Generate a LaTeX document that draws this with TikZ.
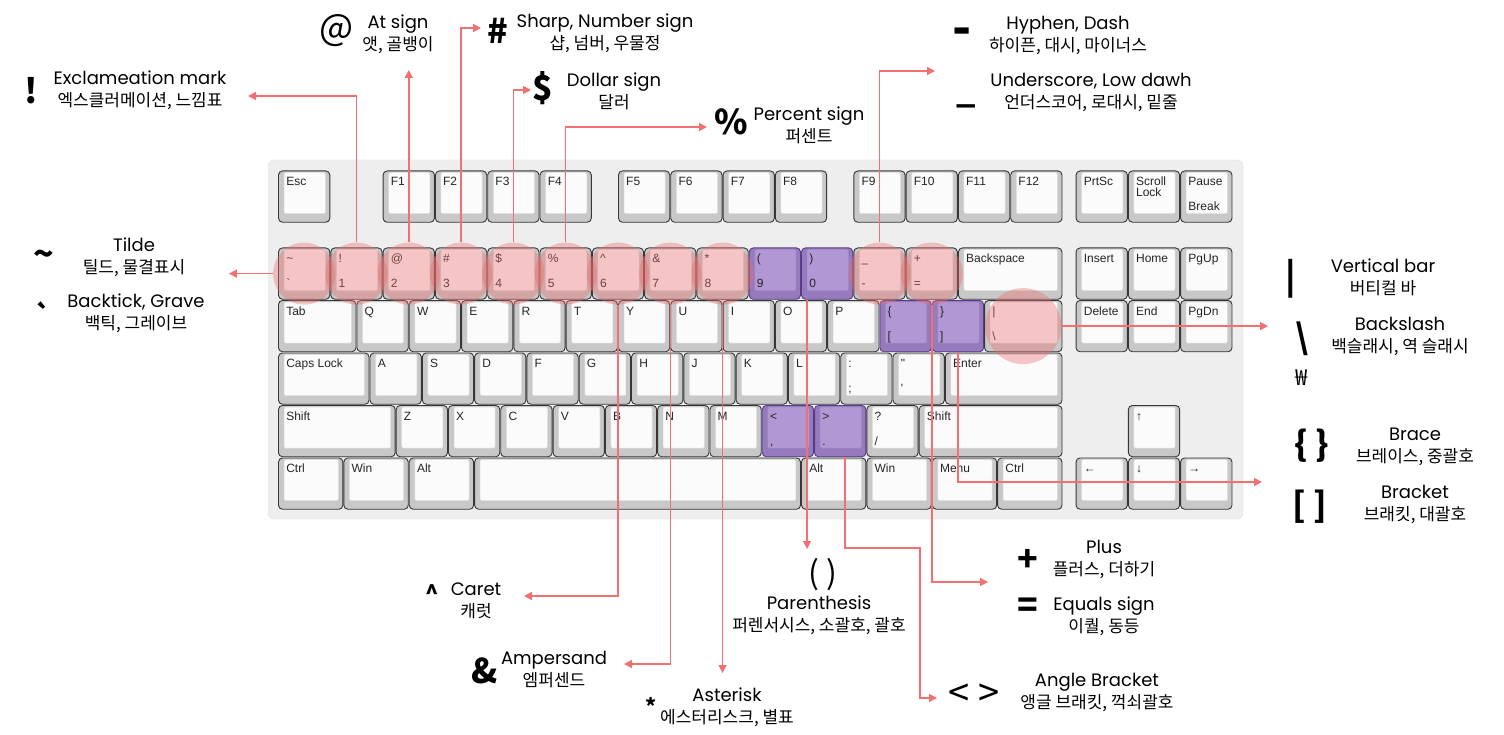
\documentclass[tikz,border=0pt]{standalone}
\usepackage{fontspec}
\setmainfont{Noto Sans CJK KR}
\newfontfamily\keyfont{Liberation Sans}
\newfontfamily\enfont{Poppins}
\usetikzlibrary{arrows.meta}

\definecolor{capgray}{RGB}{200,200,200}
\definecolor{capline}{RGB}{55,55,55}
\definecolor{facewhite}{RGB}{251,251,251}
\definecolor{faceline}{RGB}{222,222,222}
\definecolor{boardgray}{RGB}{238,238,238}
\definecolor{capviolet}{RGB}{150,122,190}
\definecolor{faceviolet}{RGB}{177,152,212}
\definecolor{lineviolet}{RGB}{88,60,136}
\definecolor{spotred}{RGB}{236,108,108}
\definecolor{linkred}{RGB}{242,112,112}

% one key: [look]{name}{column in units}{row top}{width in units}{upper legend}{lower legend}
\newcommand\ku{52.3}
\newcommand\kbkey[7][plain]{%
  \node[#1cap, minimum width={#5*\ku-1}] (#2) at ({278+(#3+#5/2)*\ku},{#4+25.6}) {};
  \draw[#1face] ([xshift=6pt,yshift=-2pt]#2.north west) rectangle ([xshift=-5pt,yshift=9pt]#2.south east);
  \if\relax\detokenize{#6}\relax\else
    \node[legend, anchor=base west] (#2-t) at ([xshift=8pt,yshift=-15pt]#2.north west) {#6};
  \fi
  \if\relax\detokenize{#7}\relax\else
    \node[legend, anchor=base west] (#2-b) at ([xshift=8pt,yshift=12pt]#2.south west) {#7};
  \fi}
\newcommand\krl[1]{{\rmfamily\fontsize{17}{22}\selectfont #1}}

\begin{document}
\begin{tikzpicture}[x=1pt, y=-1pt,
    board/.style={draw=black!12, fill=boardgray, rounded corners=6pt, inner sep=0pt},
    plaincap/.style={draw=capline, fill=capgray, rounded corners=4pt,
                     minimum height=51.3pt, inner sep=0pt, line width=0.9pt},
    plainface/.style={draw=faceline, fill=facewhite, rounded corners=2pt, line width=0.5pt},
    violetcap/.style={plaincap, draw=lineviolet, fill=capviolet},
    violetface/.style={plainface, draw=faceviolet!92!black, fill=faceviolet},
    legend/.style={font=\keyfont\fontsize{12}{11}\selectfont, text=black!85, inner sep=0pt},
    spot/.style={circle, fill=spotred, fill opacity=0.38, minimum size=62pt, inner sep=0pt},
    link/.style={draw=linkred, line width=1.5pt, -{Triangle[length=8pt,width=8pt]}},
    glyph/.style={font=\fontsize{34}{34}\selectfont\bfseries, inner sep=0pt},
    lbl/.style={align=center, inner sep=0pt, font=\enfont\fontsize{18}{22}\selectfont}
]
\fill[white] (0,0) rectangle (1504,735);
\useasboundingbox (0,0) rectangle (1504,735);

\node[board, minimum width=975pt, minimum height=359pt] (board) at (755.5,339.5) {};

% function row
\kbkey{kesc}{0}{171}{1}{Esc}{}
\kbkey{kf1}{2}{171}{1}{F1}{}
\kbkey{kf2}{3}{171}{1}{F2}{}
\kbkey{kf3}{4}{171}{1}{F3}{}
\kbkey{kf4}{5}{171}{1}{F4}{}
\kbkey{kf5}{6.5}{171}{1}{F5}{}
\kbkey{kf6}{7.5}{171}{1}{F6}{}
\kbkey{kf7}{8.5}{171}{1}{F7}{}
\kbkey{kf8}{9.5}{171}{1}{F8}{}
\kbkey{kf9}{11}{171}{1}{F9}{}
\kbkey{kf10}{12}{171}{1}{F10}{}
\kbkey{kf11}{13}{171}{1}{F11}{}
\kbkey{kf12}{14}{171}{1}{F12}{}
\kbkey{kprt}{15.25}{171}{1}{PrtSc}{}
\kbkey{kscroll}{16.25}{171}{1}{\vtop{\baselineskip=11pt\hbox{Scroll}\hbox{Lock}}}{}
\kbkey{kpause}{17.25}{171}{1}{Pause}{Break}

% number row
\kbkey{kgrave}{0}{248}{1}{\textasciitilde}{\textasciigrave}
\kbkey{k1}{1}{248}{1}{!}{1}
\kbkey{k2}{2}{248}{1}{@}{2}
\kbkey{k3}{3}{248}{1}{\#}{3}
\kbkey{k4}{4}{248}{1}{\$}{4}
\kbkey{k5}{5}{248}{1}{\%}{5}
\kbkey{k6}{6}{248}{1}{\textasciicircum}{6}
\kbkey{k7}{7}{248}{1}{\&}{7}
\kbkey{k8}{8}{248}{1}{*}{8}
\kbkey[violet]{k9}{9}{248}{1}{(}{9}
\kbkey[violet]{k0}{10}{248}{1}{)}{0}
\kbkey{kminus}{11}{248}{1}{\_}{-}
\kbkey{kequal}{12}{248}{1}{+}{=}
\kbkey{kback}{13}{248}{2}{Backspace}{}
\kbkey{kins}{15.25}{248}{1}{Insert}{}
\kbkey{khome}{16.25}{248}{1}{Home}{}
\kbkey{kpgup}{17.25}{248}{1}{PgUp}{}

% top letter row
\kbkey{ktab}{0}{300.5}{1.5}{Tab}{}
\kbkey{kq}{1.5}{300.5}{1}{Q}{}
\kbkey{kw}{2.5}{300.5}{1}{W}{}
\kbkey{ke}{3.5}{300.5}{1}{E}{}
\kbkey{kr}{4.5}{300.5}{1}{R}{}
\kbkey{kt}{5.5}{300.5}{1}{T}{}
\kbkey{ky}{6.5}{300.5}{1}{Y}{}
\kbkey{ku}{7.5}{300.5}{1}{U}{}
\kbkey{ki}{8.5}{300.5}{1}{I}{}
\kbkey{ko}{9.5}{300.5}{1}{O}{}
\kbkey{kp}{10.5}{300.5}{1}{P}{}
\kbkey[violet]{klbrace}{11.5}{300.5}{1}{\{}{[}
\kbkey[violet]{krbrace}{12.5}{300.5}{1}{\}}{]}
\kbkey{kbslash}{13.5}{300.5}{1.5}{|}{\textbackslash}
\kbkey{kdel}{15.25}{300.5}{1}{Delete}{}
\kbkey{kend}{16.25}{300.5}{1}{End}{}
\kbkey{kpgdn}{17.25}{300.5}{1}{PgDn}{}

% home row
\kbkey{kcaps}{0}{353}{1.75}{Caps Lock}{}
\kbkey{ka}{1.75}{353}{1}{A}{}
\kbkey{ks}{2.75}{353}{1}{S}{}
\kbkey{kd}{3.75}{353}{1}{D}{}
\kbkey{kf}{4.75}{353}{1}{F}{}
\kbkey{kg}{5.75}{353}{1}{G}{}
\kbkey{kh}{6.75}{353}{1}{H}{}
\kbkey{kj}{7.75}{353}{1}{J}{}
\kbkey{kk}{8.75}{353}{1}{K}{}
\kbkey{kl}{9.75}{353}{1}{L}{}
\kbkey{kscolon}{10.75}{353}{1}{:}{;}
\kbkey{kquote}{11.75}{353}{1}{\textquotedbl}{\textquotesingle}
\kbkey{kenter}{12.75}{353}{2.25}{Enter}{}

% bottom letter row
\kbkey{klshift}{0}{405.5}{2.25}{Shift}{}
\kbkey{kz}{2.25}{405.5}{1}{Z}{}
\kbkey{kx}{3.25}{405.5}{1}{X}{}
\kbkey{kc}{4.25}{405.5}{1}{C}{}
\kbkey{kv}{5.25}{405.5}{1}{V}{}
\kbkey{kb}{6.25}{405.5}{1}{B}{}
\kbkey{kn}{7.25}{405.5}{1}{N}{}
\kbkey{km}{8.25}{405.5}{1}{M}{}
\kbkey[violet]{klt}{9.25}{405.5}{1}{<}{,}
\kbkey[violet]{kgt}{10.25}{405.5}{1}{>}{.}
\kbkey{kslash}{11.25}{405.5}{1}{?}{/}
\kbkey{krshift}{12.25}{405.5}{2.75}{Shift}{}
\kbkey{kup}{16.25}{405.5}{1}{↑}{}

% space row
\kbkey{klctrl}{0}{458}{1.25}{Ctrl}{}
\kbkey{klwin}{1.25}{458}{1.25}{Win}{}
\kbkey{klalt}{2.5}{458}{1.25}{Alt}{}
\kbkey{kspace}{3.75}{458}{6.25}{}{}
\kbkey{kralt}{10}{458}{1.25}{Alt}{}
\kbkey{krwin}{11.25}{458}{1.25}{Win}{}
\kbkey{kmenu}{12.5}{458}{1.25}{Menu}{}
\kbkey{krctrl}{13.75}{458}{1.25}{Ctrl}{}
\kbkey{kleft}{15.25}{458}{1}{←}{}
\kbkey{kdown}{16.25}{458}{1}{↓}{}
\kbkey{kright}{17.25}{458}{1}{→}{}

% pink marks
\node[spot] (c-grave) at (kgrave) {};
\node[spot] (c1) at (k1) {};
\node[spot] (c2) at (k2) {};
\node[spot] (c3) at (k3) {};
\node[spot] (c4) at (k4) {};
\node[spot] (c5) at (k5) {};
\node[spot] (c6) at (k6) {};
\node[spot] (c7) at (k7) {};
\node[spot] (c8) at (k8) {};
\node[spot] (c-minus) at (kminus) {};
\node[spot] (c-equal) at (kequal) {};
\node[spot, minimum size=76pt] (c-bslash) at (kbslash) {};

% symbols and names
\node[glyph] (s-excl) at (31,91) {!};
\node[lbl] (l-excl) at (140,90.5) {Exclameation mark\\\krl{엑스클러메이션, 느낌표}};
\node[glyph, font=\fontsize{36}{36}\selectfont] (s-at) at (337,31) {@};
\node[lbl] (l-at) at (398,34.5) {At sign\\\krl{앳, 골뱅이}};
\node[glyph] (s-sharp) at (498,31) {\#};
\node[lbl] (l-sharp) at (605,33.5) {Sharp, Number sign\\\krl{샵, 넘버, 우물정}};
\node[glyph] (s-dollar) at (543,88) {\$};
\node[lbl] (l-dollar) at (614,91.5) {Dollar sign\\\krl{달러}};
\node[glyph] (s-pct) at (731,122) {\%};
\node[lbl] (l-pct) at (809,125.5) {Percent sign\\\krl{퍼센트}};
\node[glyph, font=\fontsize{50}{50}\selectfont\bfseries] (s-dash) at (962,37) {-};
\node[lbl] (l-dash) at (1068,35) {Hyphen, Dash\\\krl{하이픈, 대시, 마이너스}};
\node[glyph] (s-under) at (966,105) {\_};
\node[lbl] (l-under) at (1091,92) {Underscore, Low dawh\\\krl{언더스코어, 로대시, 밑줄}};
\node[glyph] (s-tilde) at (44,258) {\textasciitilde};
\node[lbl] (l-tilde) at (134,257) {Tilde\\\krl{틸드, 물결표시}};
\node[glyph, font=\fontsize{26}{26}\selectfont\bfseries] (s-grave) at (44,314) {\textasciigrave};
\node[lbl] (l-grave) at (136,313) {Backtick, Grave\\\krl{백틱, 그레이브}};
\node[glyph] (s-bar) at (1291,279) {|};
\node[lbl] (l-bar) at (1383,277.5) {Vertical bar\\\krl{버티컬 바}};
\node[glyph] (s-bslash) at (1302,339) {\textbackslash};
\node[glyph, font=\fontsize{22}{22}\selectfont] (s-won) at (1302,378) {₩};
\node[lbl] (l-bslash) at (1400,336.5) {Backslash\\\krl{백슬래시, 역 슬래시}};
\node[glyph] (s-brace) at (1312,446) {\{ \}};
\node[lbl] (l-brace) at (1415,446.5) {Brace\\\krl{브레이스, 중괄호}};
\node[glyph] (s-bracket) at (1310,507) {[ ]};
\node[lbl] (l-bracket) at (1415,504.5) {Bracket\\\krl{브래킷, 대괄호}};
\node[glyph] (s-plus) at (1028,560) {+};
\node[lbl] (l-plus) at (1104,559) {Plus\\\krl{플러스, 더하기}};
\node[glyph] (s-equal) at (1028,608) {=};
\node[lbl] (l-equal) at (1104,616.5) {Equals sign\\\krl{이퀄, 동등}};
\node[glyph, font=\fontsize{38}{38}\selectfont] (s-angle) at (974,695) {< >};
\node[lbl] (l-angle) at (1097,692.5) {Angle Bracket\\\krl{앵글 브래킷, 꺽쇠괄호}};
\node[glyph, font=\fontsize{32}{32}\selectfont] (s-paren) at (823,575) {( )};
\node[lbl] (l-paren) at (819,615) {Parenthesis\\\krl{퍼렌서시스, 소괄호, 괄호}};
\node[glyph] (s-amp) at (485,671) {\&};
\node[lbl] (l-amp) at (554,669.5) {Ampersand\\\krl{엠퍼센드}};
\node[glyph, font=\fontsize{21}{21}\selectfont\bfseries] (s-ast) at (651,706) {*};
\node[lbl] (l-ast) at (727,707) {Asterisk\\\krl{에스터리스크, 별표}};
\node[glyph, font=\fontsize{22}{22}\selectfont\bfseries] (s-caret) at (432,593) {\textasciicircum};
\node[lbl] (l-caret) at (476,601) {Caret\\\krl{캐럿}};

% arrow ends
\coordinate (a-tilde) at ([xshift=-44pt]c-grave.west);
\coordinate (a-excl) at (248,96);
\coordinate (a-at) at (410,70);
\coordinate (a-sharp) at (481,28);
\coordinate (a-dollar) at (531,90);
\coordinate (a-pct) at (707,127);
\coordinate (a-dash) at (935,71);
\coordinate (a-caret) at (524,596);
\coordinate (a-amp) at (624,664);
\coordinate (a-ast) at (727,673);
\coordinate (a-paren) at (808,549);
\coordinate (b-angle) at (920,548);
\coordinate (a-angle) at (937,698);
\coordinate (a-plus) at (988,582);
\coordinate (a-brace) at (1262,482);
\coordinate (a-bar) at (1268,327);

\draw[link] (c-grave.west) -- (a-tilde);
\draw[link] (c1.north) |- (a-excl);
\draw[link] (c2.north) -- (c2.north |- a-at);
\draw[link] (c3.north) |- (a-sharp);
\draw[link] (c4.north) |- (a-dollar);
\draw[link] (c5.north) |- (a-pct);
\draw[link] (c-minus.north) |- (a-dash);
\draw[link] (c6.south) |- (a-caret);
\draw[link] (c7.south) |- (a-amp);
\draw[link] (c8.south) -- (c8.south |- a-ast);
\draw[link] ([xshift=6pt]k0.south west) -- ([xshift=6pt]k0.south west |- a-paren);
\draw[link] ([xshift=5pt]kgt.south) |- (b-angle) |- (a-angle);
\draw[link] (c-equal.south) |- (a-plus);
\draw[link] (krbrace.south) |- (a-brace);
\draw[link] (c-bslash.east) -- (c-bslash.east -| a-bar);
\end{tikzpicture}
\end{document}
